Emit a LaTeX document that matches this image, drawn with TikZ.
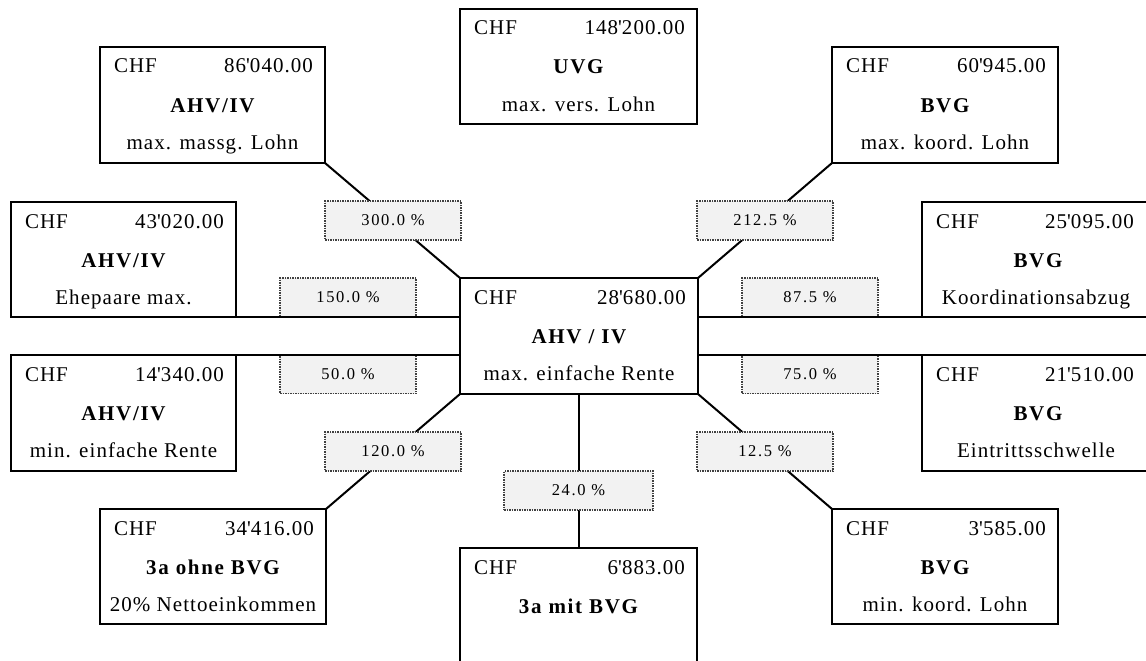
\documentclass[tikz,border=0pt]{standalone}
\usepackage{fontspec}
\setmainfont{Liberation Serif}[LetterSpace=5]
\newfontfamily\lblfont{Liberation Serif}[LetterSpace=10]
\usetikzlibrary{calc}
\newcommand\q{\textquotesingle}
\tikzset{
  box/.style={draw=black, line width=2.2pt, outer sep=0pt, inner sep=0pt, fill=none},
  txt/.style={inner sep=0pt, outer sep=0pt, font=\fontsize{21pt}{25pt}\selectfont},
  ttl/.style={txt, font=\fontsize{21pt}{25pt}\selectfont\bfseries\addfontfeatures{LetterSpace=8}},
  conn/.style={draw=black, line width=2pt},
  pct/.style={draw=black!75, densely dotted, line width=1.5pt, fill=black!5,
    minimum width=136pt, minimum height=39pt, inner sep=0pt, outer sep=0pt,
    font=\lblfont\fontsize{16.5pt}{19pt}\selectfont}
}
\newcommand\boxtexts[6]{%
  \node[txt, anchor=base west] (#1-c) at ($(#1.north west)+(14,26)$) {CHF};
  \node[txt, anchor=base east] (#1-a) at ($(#1.north east)+(-#6,26)$) {#2};
  \node[ttl, anchor=base] (#1-t) at ($(#1.north)+(0,65)$) {#3};
  \node[txt, anchor=base] (#1-s) at ($(#1.north)+(#5,102)$) {#4};
}
\begin{document}
\begin{tikzpicture}[x=1pt, y=-1pt]
\clip (0,0) rectangle (1146,661);
\fill[white] (0,0) rectangle (1146,661);
% boxes
\node[box, minimum width=225pt, minimum height=116pt] (tl) at (212.5,105) {};
\node[box, minimum width=237pt, minimum height=115pt] (uvg) at (578.5,66.5) {};
\node[box, minimum width=226pt, minimum height=116pt] (tr) at (945,105) {};
\node[box, minimum width=225pt, minimum height=115pt] (ml) at (123.5,259.5) {};
\node[box, minimum width=238pt, minimum height=116pt] (c) at (579,336) {};
\node[box, minimum width=232pt, minimum height=115pt] (mr) at (1038,259.5) {};
\node[box, minimum width=225pt, minimum height=116pt] (ll) at (123.5,413) {};
\node[box, minimum width=232pt, minimum height=116pt] (lr) at (1038,413) {};
\node[box, minimum width=226pt, minimum height=115pt] (bl) at (213,566.5) {};
\node[box, minimum width=237pt, minimum height=160pt] (bc) at (578.5,628) {};
\node[box, minimum width=226pt, minimum height=115pt] (br) at (945,566.5) {};
% texts
\boxtexts{tl}{86\q040.00}{AHV/IV}{max. massg. Lohn}{0}{12}
\boxtexts{uvg}{148\q200.00}{UVG}{max. vers. Lohn}{0}{12}
\boxtexts{tr}{60\q945.00}{BVG}{max. koord. Lohn}{0}{12}
\boxtexts{ml}{43\q020.00}{AHV/IV}{Ehepaare max.}{0}{12}
\boxtexts{c}{28\q680.00}{AHV / IV}{max. einfache Rente}{0}{12}
\boxtexts{mr}{25\q095.00}{BVG}{Koordinationsabzug}{-2}{20}
\boxtexts{ll}{14\q340.00}{AHV/IV}{min. einfache Rente}{0}{12}
\boxtexts{lr}{21\q510.00}{BVG}{Eintrittsschwelle}{-2}{20}
\boxtexts{bl}{34\q416.00}{3a ohne BVG}{20\% Nettoeinkommen}{0}{12}
\boxtexts{br}{3\q585.00}{BVG}{min. koord. Lohn}{0}{12}
\node[txt, anchor=base west] (bc-c) at ($(bc.north west)+(14,26)$) {CHF};
\node[txt, anchor=base east] (bc-a) at ($(bc.north east)+(-12,26)$) {6\q883.00};
\node[ttl, anchor=base] (bc-t) at ($(bc.north)+(0,65)$) {3a mit BVG};
% diagonal and vertical connectors
\draw[conn] (c.north west) -- (tl.south east);
\draw[conn] (c.north east) -- (tr.south west);
\draw[conn] (c.south west) -- (bl.north east);
\draw[conn] (c.south east) -- (br.north west);
\draw[conn, line width=2.4pt] (c.south) -- (c.south |- bc.north);
% percentage labels
\node[pct] (p300) at (393,220.5) {300.0 \%};
\node[pct] (p150) at (348,297.5) {150.0 \%};
\node[pct] (p50) at (348,374) {50.0 \%};
\node[pct] (p120) at (393,451.5) {120.0 \%};
\node[pct] (p212) at (765,220.5) {212.5 \%};
\node[pct] (p875) at (810,297.5) {87.5 \%};
\node[pct] (p75) at (810,374) {75.0 \%};
\node[pct] (p125) at (765,451.5) {12.5 \%};
\node[pct, minimum width=149pt] (p24) at (578.5,490.5) {24.0 \%};
% horizontal connectors
\draw[conn] (ml.south east) -- (ml.south east -| c.west);
\draw[conn] (ll.north east) -- (ll.north east -| c.west);
\draw[conn] (mr.south west) -- (mr.south west -| c.east);
\draw[conn] (lr.north west) -- (lr.north west -| c.east);
\end{tikzpicture}
\end{document}
